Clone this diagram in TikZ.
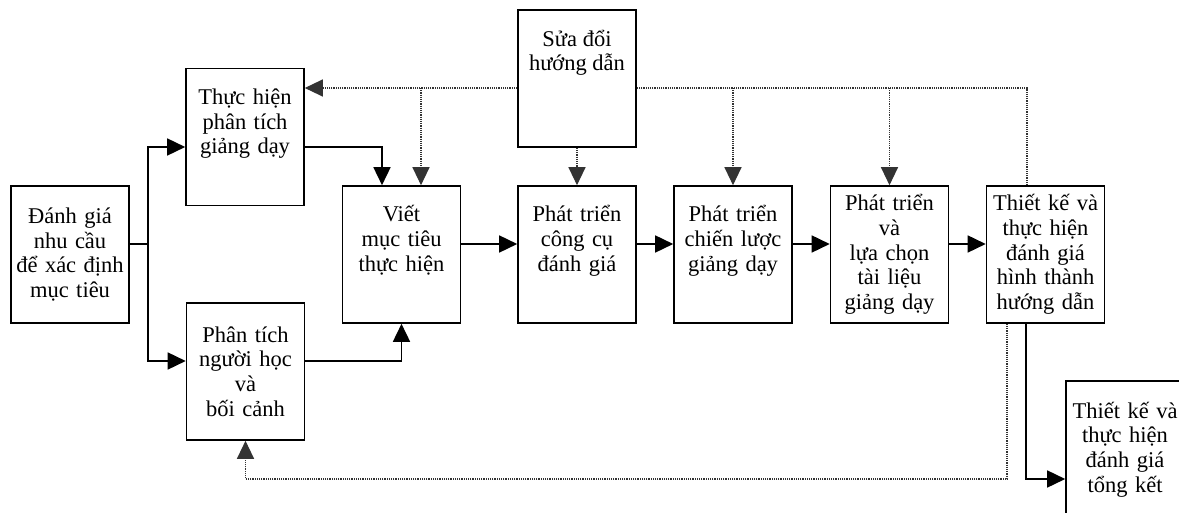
\documentclass[tikz,border=0pt]{standalone}
\usepackage{fontspec}
\setmainfont{Liberation Serif}
\usetikzlibrary{arrows.meta}

\begin{document}
\begin{tikzpicture}[x=1pt, y=-1pt, font=\fontsize{22.5}{24.7}\selectfont,
    box/.style={draw, line width=1.6pt, fill=white, text width=112pt, inner sep=3pt, align=center, minimum height=137pt},
    highbox/.style={box, minimum height=0pt, text height=33pt, text depth=98pt},
    arrowtip/.style={-{Triangle[length=18pt, width=17pt]}},
    arr/.style={arrowtip, line width=1.6pt},
    fb/.style={densely dotted, line width=1.2pt, black!80}]
    \clip (0, 0) rectangle (1179, 513);

    \node (A) [box] at (70, 254.5) {Đánh giá\\nhu cầu\\để xác định\\mục tiêu};
    \node (B) [highbox] at (245, 137) {Thực hiện\\phân tích\\giảng dạy};
    \node (C) [box] at (245.5, 371.5) {Phân tích\\người học\\và\\bối cảnh};
    \node (D) [highbox] at (401.5, 254.5) {Viết\\mục tiêu\\thực hiện};
    \node (E) [box] at (577, 78.5) {};
    \node (Etext) [anchor=north, align=center] at ([yshift=-17pt]E.north) {Sửa đổi\\hướng dẫn};
    \node (F) [highbox] at (577, 254.5) {Phát triển\\công cụ\\đánh giá};
    \node (G) [highbox] at (733, 254.5) {Phát triển\\chiến lược\\giảng dạy};
    \node (H) [box] at (889.5, 254.5) {Phát triển\\và\\lựa chọn\\tài liệu\\giảng dạy};
    \node (J) [box] at (1045.5, 254.5) {Thiết kế và\\thực hiện\\đánh giá\\hình thành\\hướng dẫn};
    \node (K) [box] at (1125, 449.5) {Thiết kế và\\thực hiện\\đánh giá\\tổng kết};

    \coordinate (split) at (148, 244);
    \coordinate (top) at (0, 88);
    \coordinate (bot) at (0, 479);
    \coordinate (dD) at ([xshift=19.5pt]D.north);

    % solid flow
    \draw[line width=1.6pt] (A.east |- split) -- (split);
    \draw[arr] (split) |- ([yshift=-10pt]B.west);
    \draw[arr] (split) |- ([yshift=10.5pt]C.west);
    \draw[arr] ([yshift=-10pt]B.east) -| ([xshift=-19.5pt]D.north);
    \draw[arr] ([yshift=10.5pt]C.east) -| (D.south);
    \foreach \a/\b in {D/F, F/G, G/H, H/J}
        \draw[arr] ([yshift=10.5pt]\a.east) -- ([yshift=10.5pt]\b.west);
    \draw[arr] ([xshift=-19.5pt]J.south) |- ([yshift=-29.5pt]K.west);

    % revision loops
    \draw[fb] ([xshift=-18.5pt]J.north) |- ([yshift=-9.5pt]E.east);
    \draw[fb, arrowtip] ([yshift=-9.5pt]E.west) -- ([yshift=49pt]B.east);
    \draw[fb, arrowtip] (dD |- top) -- (dD);
    \draw[fb, arrowtip] (E.south) -- (F.north);
    \draw[fb, arrowtip] (G.north |- top) -- (G.north);
    \draw[fb, arrowtip] (H.north |- top) -- (H.north);
    \draw[fb, arrowtip] ([xshift=-38.5pt]J.south) |- (C.south |- bot) -- (C.south);
\end{tikzpicture}
\end{document}
